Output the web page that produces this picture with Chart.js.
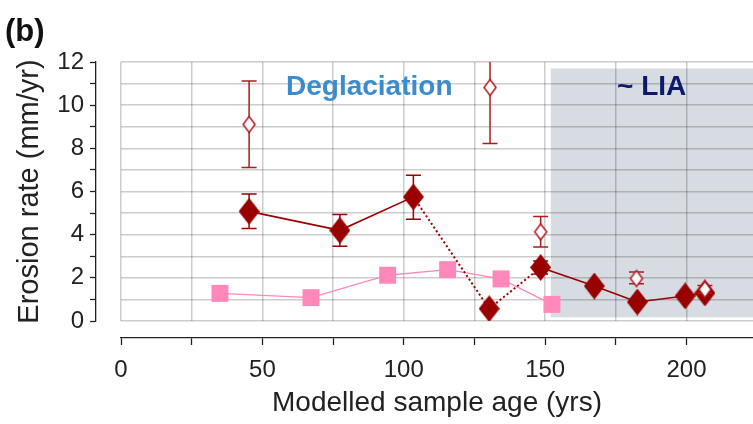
<!DOCTYPE html>
<html>
<head>
<meta charset="utf-8">
<script src="https://cdn.jsdelivr.net/npm/chart.js@4.4.1/dist/chart.umd.min.js"></script>
<style>
  html, body { margin: 0; padding: 0; background: #ffffff; }
  canvas { display: block; }
</style>
</head>
<body>
<canvas id="chart" width="753" height="424"></canvas>
<script>
// Erosion rate (mm/yr) against modelled sample age (yrs)

// Pink series
const pinkAges  = [35.0, 67.2, 94.3, 115.5, 134.4, 152.4];
const pinkRates = [1.28, 1.08, 2.12, 2.38, 1.95, 0.77];

// Filled diamonds (connected)
const filledAges  = [45.3, 77.4, 103.4, 130.2, 148.4, 167.4, 182.6, 199.5, 206.5];
const filledRates = [5.08, 4.20, 5.75, 0.57, 2.48, 1.62, 0.88, 1.16, 1.30];
const filledLow   = [4.28, 3.46, 4.71, null, 2.18, null, null, null, null];
const filledHigh  = [5.88, 4.93, 6.75, null, 2.78, null, null, null, null];

// Open diamonds
const openAges  = [45.3, 130.5, 148.4, 182.3, 206.5];
const openRates = [9.11, 10.82, 4.13, 1.97, 1.46];
const openLow   = [7.11, 8.22, 3.43, 1.73, 1.28];
const openHigh  = [11.12, 13.42, 4.84, 2.27, 1.65];

// Axis ranges and ticks
const xMin = 0, xMax = 223.5, xTickStep = 25, xLabelStep = 50;
const yMin = 0, yMax = 12, yTickStep = 1, yLabelStep = 2;

// Little Ice Age shading (age from, rate range)
const liaFrom = 152, liaLow = 0.17, liaHigh = 11.7;

const FONT = '"Liberation Sans", Arial, Helvetica, sans-serif';
Chart.defaults.font.family = FONT;

const DARK_RED = '#990000';
const OPEN_RED = '#b01a1e';
const PINK = '#ff88bb';
const AXIS = '#222222';
const GRID = 'rgba(0,0,0,0.2)';

function diamond(w, h, fill, stroke, lw) {
  const pad = stroke ? Math.ceil(lw) : 0;
  const c = document.createElement('canvas');
  c.width = w + 2 * pad;
  c.height = h + 2 * pad;
  const g = c.getContext('2d');
  g.beginPath();
  g.moveTo(c.width / 2, pad);
  g.lineTo(c.width - pad, c.height / 2);
  g.lineTo(c.width / 2, c.height - pad);
  g.lineTo(pad, c.height / 2);
  g.closePath();
  g.fillStyle = fill;
  g.fill();
  if (stroke) {
    g.strokeStyle = stroke;
    g.lineWidth = lw;
    g.stroke();
  }
  return c;
}

const filledMarker = diamond(21, 27, DARK_RED);
const openMarker = diamond(12, 16, '#ffffff', OPEN_RED, 1.5);

const toPoints = (xs, ys) => xs.map((x, i) => ({ x: x, y: ys[i] }));

// Fixed axis box size; label overhang is not allowed to shrink the plot
function fixBox(w, h) {
  return s => {
    if (w != null) s.width = w;
    if (h != null) s.height = h;
    s.paddingLeft = 0; s.paddingRight = 0;
    s.paddingTop = 0; s.paddingBottom = 0;
  };
}

// Shaded LIA box, drawn first so the grid shows through on top of it
const shading = {
  id: 'shading',
  beforeDraw(chart) {
    const { ctx, chartArea: a, scales: { x, y } } = chart;
    ctx.save();
    ctx.fillStyle = '#d7dce3';
    const left = x.getPixelForValue(liaFrom);
    const top = y.getPixelForValue(liaHigh);
    const bottom = y.getPixelForValue(liaLow);
    ctx.fillRect(left, top, a.right - left, bottom - top);
    ctx.restore();
  }
};

// Vertical error bars, drawn just under each marker set
const errorBars = {
  id: 'errorBars',
  beforeDatasetDraw(chart, args) {
    const set = chart.data.datasets[args.index];
    if (!set.errLow) return;
    const { ctx, chartArea: a, scales: { x, y } } = chart;
    ctx.save();
    ctx.beginPath();
    ctx.rect(a.left, a.top, a.right - a.left, a.bottom - a.top);
    ctx.clip();
    ctx.strokeStyle = set.errColor;
    ctx.lineWidth = 1.5;
    set.data.forEach((p, i) => {
      if (set.errLow[i] == null) return;
      const px = x.getPixelForValue(p.x);
      const y1 = y.getPixelForValue(set.errLow[i]);
      const y2 = y.getPixelForValue(set.errHigh[i]);
      ctx.beginPath();
      ctx.moveTo(px, y1); ctx.lineTo(px, y2);
      ctx.moveTo(px - 7.5, y1); ctx.lineTo(px + 7.5, y1);
      ctx.moveTo(px - 7.5, y2); ctx.lineTo(px + 7.5, y2);
      ctx.stroke();
    });
    ctx.restore();
  }
};

// Period names and panel letter
const captions = {
  id: 'captions',
  beforeDatasetsDraw(chart) {
    const ctx = chart.ctx;
    ctx.save();
    ctx.textBaseline = 'alphabetic';
    ctx.textAlign = 'left';
    ctx.font = 'bold 28px ' + FONT;
    ctx.fillStyle = '#3a8ccc';
    ctx.fillText('Deglaciation', 286, 95);
    ctx.fillStyle = '#0d1a6b';
    ctx.fillText('~ LIA', 617, 95);
    ctx.font = 'bold 31px ' + FONT;
    ctx.fillStyle = '#111111';
    ctx.fillText('(b)', 5, 41);
    ctx.restore();
  }
};

new Chart(document.getElementById('chart'), {
  type: 'line',
  data: {
    datasets: [
      {
        label: 'open',
        xAxisID: 'x', yAxisID: 'y',
        data: toPoints(openAges, openRates),
        showLine: false,
        pointStyle: openMarker,
        pointRadius: 9,
        errLow: openLow, errHigh: openHigh, errColor: OPEN_RED
      },
      {
        label: 'filled',
        xAxisID: 'x', yAxisID: 'y',
        data: toPoints(filledAges, filledRates),
        borderColor: DARK_RED,
        backgroundColor: DARK_RED,
        borderWidth: 1.6,
        tension: 0,
        pointStyle: filledMarker,
        pointRadius: 13,
        segment: {
          borderDash: c => (c.p0DataIndex === 2 || c.p0DataIndex === 3) ? [2, 2.5] : undefined,
          borderWidth: c => (c.p0DataIndex === 2 || c.p0DataIndex === 3) ? 2 : undefined
        },
        errLow: filledLow, errHigh: filledHigh, errColor: DARK_RED
      },
      {
        label: 'pink',
        xAxisID: 'x', yAxisID: 'y',
        data: toPoints(pinkAges, pinkRates),
        borderColor: PINK,
        backgroundColor: PINK,
        borderWidth: 1.3,
        tension: 0,
        pointStyle: 'rect',
        pointRadius: 12,
        pointBorderWidth: 0
      }
    ]
  },
  options: {
    responsive: false,
    animation: false,
    devicePixelRatio: 1,
    layout: { autoPadding: false, padding: { top: 62, left: 0, right: 0, bottom: 0 } },
    plugins: { legend: { display: false }, tooltip: { enabled: false } },
    scales: {
      x: {
        type: 'linear', position: 'bottom', weight: 0,
        min: xMin, max: xMax,
        ticks: { display: false, stepSize: xTickStep, includeBounds: false, autoSkip: false },
        grid: { color: GRID, lineWidth: 1.5, drawTicks: false },
        border: { display: false },
        afterFit: fixBox(null, 17)
      },
      y: {
        type: 'linear', position: 'left', weight: 0,
        min: yMin, max: yMax,
        ticks: { display: false, stepSize: yTickStep, autoSkip: false },
        grid: { color: GRID, lineWidth: 1.5, drawTicks: false },
        border: { display: false },
        afterFit: fixBox(25, null)
      },
      x2: {
        type: 'linear', position: 'bottom', weight: 1,
        min: xMin, max: xMax,
        ticks: {
          stepSize: xTickStep, includeBounds: false, autoSkip: false, maxRotation: 0,
          callback: v => (v % xLabelStep === 0 ? v : ''),
          font: { size: 24 }, color: AXIS, padding: 11
        },
        grid: { drawOnChartArea: false, tickLength: 7, tickColor: AXIS, tickWidth: 1.3 },
        border: { color: AXIS, width: 1.3 },
        title: {
          display: true, text: 'Modelled sample age (yrs)',
          font: { size: 28 }, color: AXIS, padding: { top: 0, bottom: 4 }
        },
        afterFit: fixBox(null, 86)
      },
      y2: {
        type: 'linear', position: 'left', weight: 1,
        min: yMin, max: yMax,
        ticks: {
          stepSize: yTickStep, autoSkip: false,
          callback: v => (v % yLabelStep === 0 ? v : ''),
          font: { size: 24 }, color: AXIS, padding: 6
        },
        grid: { drawOnChartArea: false, tickLength: 6, tickColor: AXIS, tickWidth: 1.3 },
        border: { color: AXIS, width: 1.3 },
        title: {
          display: true, text: 'Erosion rate (mm/yr)',
          font: { size: 29 }, color: AXIS, padding: { top: 13, bottom: 0 }
        },
        afterFit: fixBox(96, null)
      }
    }
  },
  plugins: [shading, errorBars, captions]
});
</script>
</body>
</html>
